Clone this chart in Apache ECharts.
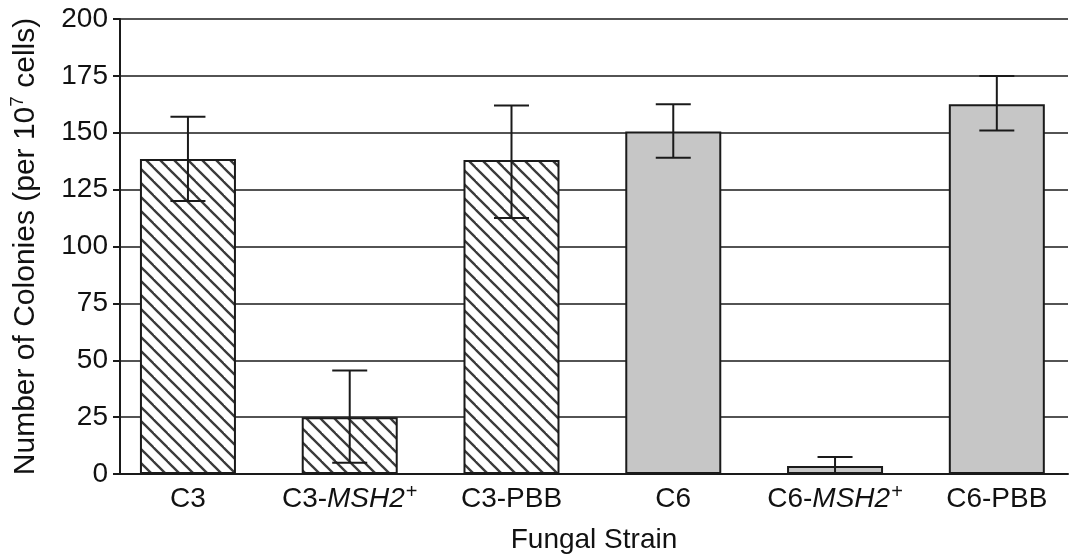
<!DOCTYPE html>
<html>
<head>
<meta charset="utf-8">
<script src="https://cdn.jsdelivr.net/npm/echarts@6/dist/echarts.min.js"></script>
<style>
html,body{margin:0;padding:0;background:#fff;}
#chart{width:1069px;height:559px;}
</style>
</head>
<body>
<div id="chart"></div>
<script>
// ---- data ----
var categories = ['C3', 'C3-MSH2+', 'C3-PBB', 'C6', 'C6-MSH2+', 'C6-PBB'];
var labelRich = ['C3', 'C3-{i|MSH2}{sup|+}', 'C3-PBB', 'C6', 'C6-{i|MSH2}{sup|+}', 'C6-PBB'];
var colonies = [138.5, 25, 138, 150.5, 3.5, 162.5];
var errLow = [120, 5, 112.5, 139, 0, 151];
var errHigh = [157, 45.5, 162, 162.5, 7.5, 175];
var hatched = [true, true, true, false, false, false];
var yTicks = [0, 25, 50, 75, 100, 125, 150, 175, 200];

// hatch pattern
var s = 14;
var cv = document.createElement('canvas');
cv.width = s; cv.height = s;
var ctx = cv.getContext('2d');
ctx.fillStyle = '#ffffff';
ctx.fillRect(0, 0, s, s);
ctx.strokeStyle = '#3a3a3a';
ctx.lineWidth = 2.3;
[-s, 0, s].forEach(function (k) {
  ctx.beginPath();
  ctx.moveTo(k - 1, -1);
  ctx.lineTo(k + s + 1, s + 1);
  ctx.stroke();
});

var FONT = '"Liberation Sans", Arial, Helvetica, sans-serif';
var FS = 28;
var LH = 34;
var LINE = '#1a1a1a';

var barData = categories.map(function (c, i) {
  return {
    value: [i, colonies[i]],
    itemStyle: {
      color: hatched[i] ? { image: cv, repeat: 'repeat' } : '#c6c6c6'
    }
  };
});
var errData = categories.map(function (c, i) {
  return [i, errLow[i], errHigh[i]];
});

var chart = echarts.init(document.getElementById('chart'), null, { renderer: 'canvas' });
chart.setOption({
  animation: false,
  backgroundColor: '#ffffff',
  grid: { left: 120, right: 1, top: 19, bottom: 85, containLabel: false },
  xAxis: {
    type: 'value',
    min: -0.42,
    max: 5.44,
    name: 'Fungal Strain',
    nameLocation: 'middle',
    nameGap: 52,
    nameTextStyle: { fontFamily: FONT, fontSize: FS, color: '#111' },
    axisLine: { show: true, onZero: false, lineStyle: { color: LINE, width: 2 } },
    axisTick: { show: false },
    splitLine: { show: false },
    axisLabel: {
      customValues: [0, 1, 2, 3, 4, 5],
      margin: 8,
      fontFamily: FONT,
      fontSize: FS,
      lineHeight: LH,
      color: '#111',
      formatter: function (v) { return labelRich[Math.round(v)]; },
      rich: {
        i: { fontFamily: FONT, fontSize: FS, lineHeight: LH, fontStyle: 'italic', color: '#111', padding: [0, 1, 0, 0] },
        sup: { fontFamily: FONT, fontSize: 20, lineHeight: 22, verticalAlign: 'top', color: '#111' }
      }
    }
  },
  yAxis: {
    type: 'value',
    min: 0,
    max: 200,
    interval: 25,
    name: 'Number of Colonies (per 10{sup|7} cells)',
    nameLocation: 'middle',
    nameGap: 76,
    nameTextStyle: {
      fontFamily: FONT, fontSize: 30, lineHeight: 36, color: '#111',
      rich: {
        sup: { fontFamily: FONT, fontSize: 19, lineHeight: 22, verticalAlign: 'top', color: '#111' }
      }
    },
    axisLine: { show: true, onZero: false, lineStyle: { color: LINE, width: 2 } },
    axisTick: { show: true, length: 7, lineStyle: { color: LINE, width: 2 } },
    splitLine: { show: true, lineStyle: { color: LINE, width: 1.6 } },
    axisLabel: {
      margin: 12,
      fontFamily: FONT,
      fontSize: FS,
      color: '#111',
      formatter: function (v) { return yTicks.indexOf(v) >= 0 ? String(v) : ''; }
    }
  },
  series: [
    {
      type: 'bar',
      data: barData,
      barWidth: 96,
      itemStyle: { borderColor: LINE, borderWidth: 2 },
      z: 3
    },
    {
      type: 'custom',
      data: errData,
      encode: { x: 0, y: [1, 2] },
      z: 5,
      renderItem: function (params, api) {
        var x = api.value(0);
        var lo = api.coord([x, api.value(1)]);
        var hi = api.coord([x, api.value(2)]);
        var hw = 17.5;
        var st = { stroke: LINE, lineWidth: 2 };
        return {
          type: 'group',
          children: [
            { type: 'line', shape: { x1: hi[0], y1: hi[1], x2: lo[0], y2: lo[1] }, style: st },
            { type: 'line', shape: { x1: hi[0] - hw, y1: hi[1], x2: hi[0] + hw, y2: hi[1] }, style: st },
            { type: 'line', shape: { x1: lo[0] - hw, y1: lo[1], x2: lo[0] + hw, y2: lo[1] }, style: st }
          ]
        };
      }
    }
  ]
});
</script>
</body>
</html>
